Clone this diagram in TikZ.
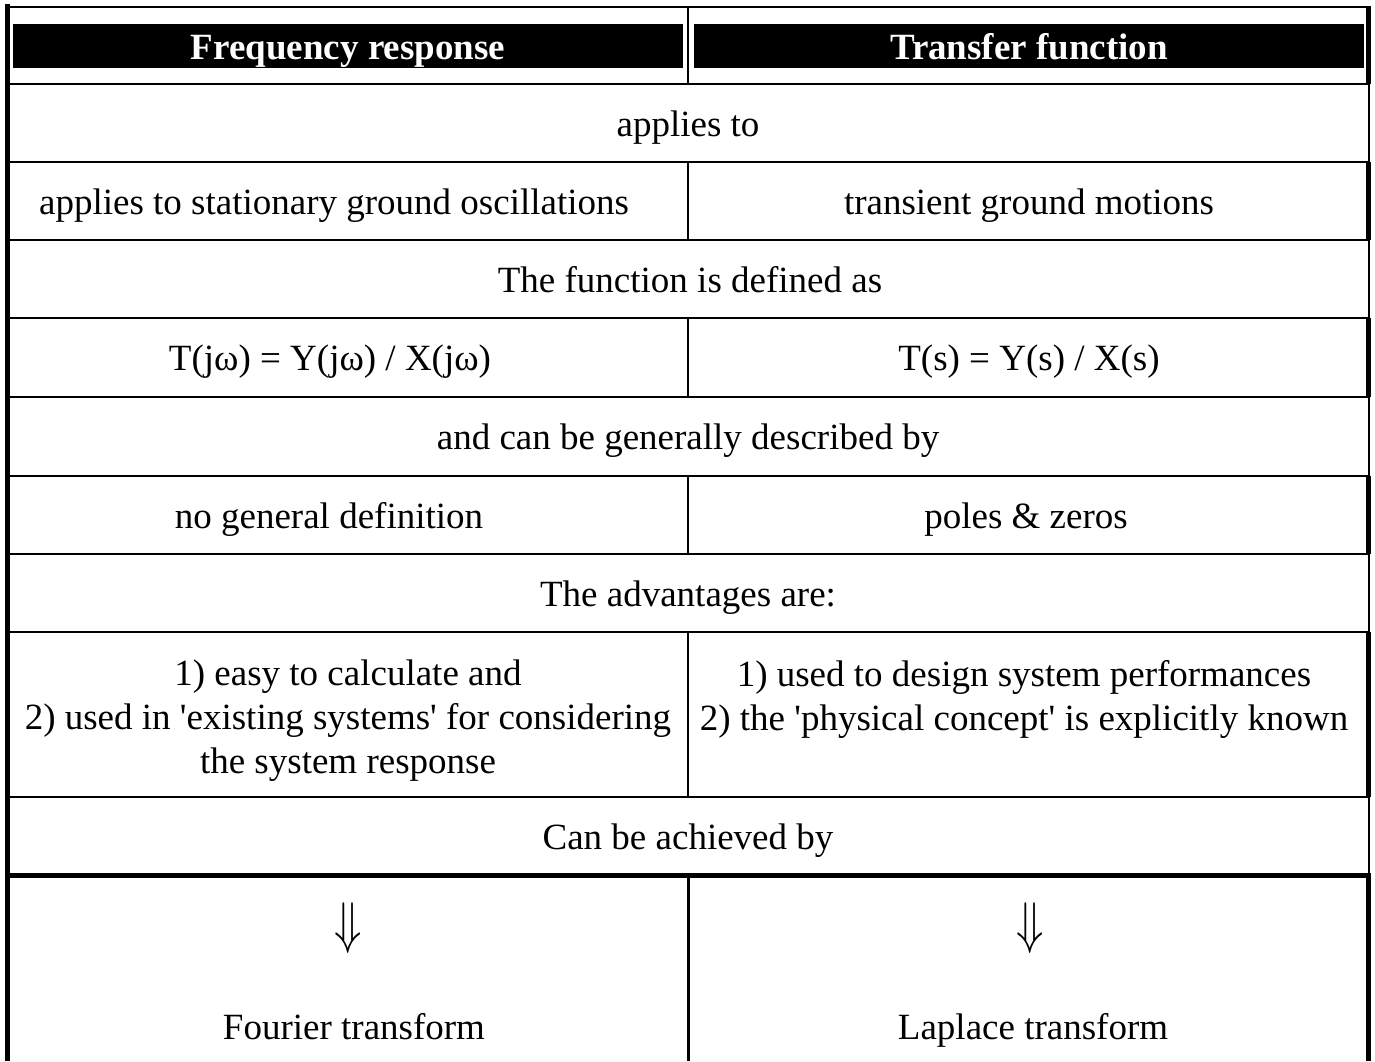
\documentclass[tikz,border=0pt]{standalone}
\usepackage{fontspec}
\setmainfont{Liberation Serif}
\usetikzlibrary{positioning}

\begin{document}
\begin{tikzpicture}[
        x=1pt, y=-1pt,
        txt/.style={font=\fontsize{37}{44}\selectfont, align=center, inner sep=0pt},
        cell/.style={txt, anchor=base},
        twoline/.style={txt, anchor=north},
        head/.style={txt, fill=black, text=white, font=\fontsize{37}{44}\selectfont\bfseries, minimum width=670, text height=35, text depth=9},
        rule/.style={draw=black, line width=2pt},
        heavy/.style={draw=black, line width=5pt},
        dblarr/.style={txt, font=\fontsize{37}{44}\selectfont}
    ]
        \useasboundingbox (0,0) rectangle (1375,1061);

        % --- CABECERA ---
        \node[head] (hFreq) at (348,46) {Frequency response};
        \node[head] (hTrans) at (1029,46) {Transfer function};

        % --- FILAS ---
        \node[cell] (appl) at (688,136) {applies to};
        \node[cell] (stat) at (334,214) {applies to stationary ground oscillations};
        \node[cell] (trans) at (1029,214) {transient ground motions};

        \node[cell] (defn) at (690,292) {The function is defined as};
        \node[cell] (tjw) at (330,370) {T(jω) = Y(jω) / X(jω)};
        \node[cell] (ts) at (1029,370) {T(s) = Y(s) / X(s)};

        \node[cell] (descr) at (688,449) {and can be generally described by};
        \node[cell] (nodef) at (329,528) {no general definition};
        \node[cell] (poles) at (1026,528) {poles \& zeros};

        \node[cell] (adv) at (688,606) {The advantages are:};
        \node[twoline] (advFreq) at (348,660) {1) easy to calculate and\\2) used in \textquotesingle existing systems\textquotesingle\ for considering\\the system response};
        \node[twoline] (advTrans) at (1024,660) {1) used to design system performances\\2) the \textquotesingle physical concept\textquotesingle\ is explicitly known};

        \node[cell] (achv) at (688,849) {Can be achieved by};

        % Transformadas
        \node[dblarr] (arrL) at (348,928) {\scalebox{1.8}[2.3]{$\Downarrow$}};
        \node[dblarr] (arrR) at (1030,928) {\scalebox{1.8}[2.3]{$\Downarrow$}};
        \node[cell] (fourier) at (354,1039) {Fourier transform};
        \node[cell] (laplace) at (1033,1039) {Laplace transform};

        % --- LINEAS DE LA TABLA ---
        \draw[heavy] (7.5,4) -- (7.5,1061);
        \draw[rule] (6,7) -- (1371,7);
        \draw[rule] (7,84) -- (1369,84);
        \draw[rule] (7,162) -- (1369,162);
        \draw[rule] (7,240) -- (1369,240);
        \draw[rule] (7,318) -- (1369,318);
        \draw[rule] (7,397) -- (1369,397);
        \draw[rule] (7,476) -- (1369,476);
        \draw[rule] (7,554) -- (1369,554);
        \draw[rule] (7,632) -- (1369,632);
        \draw[rule] (7,797) -- (1369,797);
        \draw[heavy] (7,875) -- (1371,875);

        % Division de columnas
        \draw[rule] (688,7) -- (688,84);
        \draw[rule] (688,162) -- (688,240);
        \draw[rule] (688,318) -- (688,397);
        \draw[rule] (688,476) -- (688,554);
        \draw[rule] (688,632) -- (688,797);
        \draw[rule, line width=3pt] (688,875) -- (688,1061);

        % Borde derecho
        \draw[rule] (1369,7) -- (1369,1061);
        \draw[heavy] (1368.5,7) -- (1368.5,84);
        \draw[heavy] (1368.5,162) -- (1368.5,240);
        \draw[heavy] (1368.5,318) -- (1368.5,397);
        \draw[heavy] (1368.5,476) -- (1368.5,554);
        \draw[heavy] (1368.5,632) -- (1368.5,797);
        \draw[heavy] (1368.5,875) -- (1368.5,1061);
\end{tikzpicture}
\end{document}
